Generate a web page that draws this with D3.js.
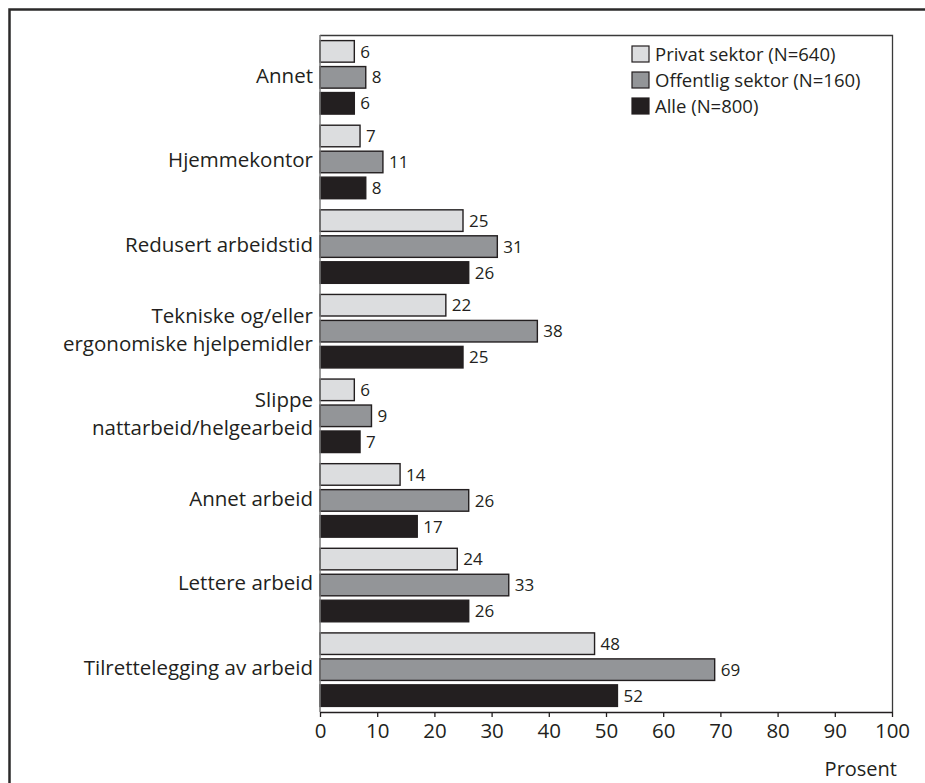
<!DOCTYPE html>
<html>
<head>
<meta charset="utf-8">
<script src="https://cdn.jsdelivr.net/npm/d3@7"></script>
<style>
  html, body { margin: 0; padding: 0; background: #fff; }
  svg { display: block; font-family: "Open Sans", "Noto Sans", sans-serif; }
</style>
</head>
<body>
<svg id="chart" width="925" height="783"></svg>
<script>
// Tiltak på arbeidsplassen, andel i prosent etter sektor
const categories = [
  ["Annet"],
  ["Hjemmekontor"],
  ["Redusert arbeidstid"],
  ["Tekniske og/eller", "ergonomiske hjelpemidler"],
  ["Slippe", "nattarbeid/helgearbeid"],
  ["Annet arbeid"],
  ["Lettere arbeid"],
  ["Tilrettelegging av arbeid"]
];
const seriesNames = ["Privat sektor (N=640)", "Offentlig sektor (N=160)", "Alle (N=800)"];
const privat     = [6, 7, 25, 22, 6, 14, 24, 48];
const offentlig  = [8, 11, 31, 38, 9, 26, 33, 69];
const alle       = [6, 8, 26, 25, 7, 17, 26, 52];
const xTicks = [0, 10, 20, 30, 40, 50, 60, 70, 80, 90, 100];
const xTitle = "Prosent";

const colors = ["#dcdddf", "#939598", "#231f20"];
const series = [privat, offentlig, alle];

const svg = d3.select("#chart");

// outer frame
svg.append("rect")
  .attr("x", 9.5).attr("y", 9.5)
  .attr("width", 1000).attr("height", 1000)
  .attr("fill", "none").attr("stroke", "#2b2a2a").attr("stroke-width", 2.5);

const plot = { left: 320, right: 892, top: 35, bottom: 712 };

const x = d3.scaleLinear().domain([0, 100]).range([plot.left, plot.right]);
const y0 = d3.scaleBand()
  .domain(categories.map((c, i) => i))
  .range([plot.top, plot.bottom])
  .paddingInner(0.113)
  .paddingOuter(0.057);
const y1 = d3.scaleBand()
  .domain([0, 1, 2])
  .range([0, y0.bandwidth()])
  .paddingInner(0.17)
  .paddingOuter(0.03);

// plot frame (top and right)
svg.append("path")
  .attr("d", `M${plot.left},${plot.top + 0.5}H${plot.right + 0.5}V${plot.bottom}`)
  .attr("fill", "none").attr("stroke", "#3a3a3a").attr("stroke-width", 1.3);

// bars
const groups = svg.append("g").selectAll("g")
  .data(categories)
  .join("g")
  .attr("transform", (d, i) => `translate(0,${y0(i)})`);

groups.each(function(cat, i) {
  const g = d3.select(this);
  series.forEach((vals, s) => {
    const v = vals[i];
    g.append("rect")
      .attr("x", x(0))
      .attr("y", y1(s))
      .attr("width", x(v) - x(0))
      .attr("height", y1.bandwidth())
      .attr("fill", colors[s])
      .attr("stroke", "#231f20")
      .attr("stroke-width", 1.4);
    g.append("text")
      .attr("x", x(v) + 6)
      .attr("y", y1(s) + y1.bandwidth() / 2)
      .attr("dy", "0.36em")
      .attr("font-size", 17)
      .attr("fill", "#231f20")
      .text(v);
  });
  // category label, one text per line
  const lineH = 28;
  const cy = y1(1) + y1.bandwidth() / 2 - 2;
  cat.forEach((line, k) => {
    g.append("text")
      .attr("text-anchor", "end")
      .attr("font-size", 20.5)
      .attr("fill", "#231f20")
      .attr("x", plot.left - 7)
      .attr("y", cy + (k - (cat.length - 1) / 2) * lineH)
      .attr("dy", "0.36em")
      .text(line);
  });
});

// y axis line
svg.append("line")
  .attr("x1", plot.left).attr("x2", plot.left)
  .attr("y1", plot.top).attr("y2", plot.bottom)
  .attr("stroke", "#777").attr("stroke-width", 1.5);

// x axis
const xAxis = svg.append("g")
  .attr("transform", `translate(0,${plot.bottom})`)
  .call(d3.axisBottom(x).tickValues(xTicks).tickSize(5).tickPadding(6).tickSizeOuter(0));
xAxis.select(".domain").attr("stroke", "#231f20").attr("stroke-width", 1.5);
xAxis.selectAll(".tick line").attr("stroke", "#231f20").attr("stroke-width", 1.3);
xAxis.selectAll(".tick text")
  .attr("font-size", 20.5)
  .attr("font-family", "'Open Sans', 'Noto Sans', sans-serif")
  .attr("fill", "#231f20");

svg.append("text")
  .attr("x", 897).attr("y", 776)
  .attr("text-anchor", "end")
  .attr("font-size", 20)
  .attr("fill", "#231f20")
  .text(xTitle);

// legend
const legend = svg.append("g").attr("transform", "translate(632,46)");
seriesNames.forEach((name, s) => {
  const row = legend.append("g").attr("transform", `translate(0,${s * 26})`);
  row.append("rect")
    .attr("x", 0).attr("y", 0)
    .attr("width", 17).attr("height", 16)
    .attr("fill", colors[s])
    .attr("stroke", "#231f20").attr("stroke-width", 1.2);
  row.append("text")
    .attr("x", 23).attr("y", 8)
    .attr("dy", "0.36em")
    .attr("font-size", 18.5)
    .attr("fill", "#231f20")
    .text(name);
});
</script>
</body>
</html>
